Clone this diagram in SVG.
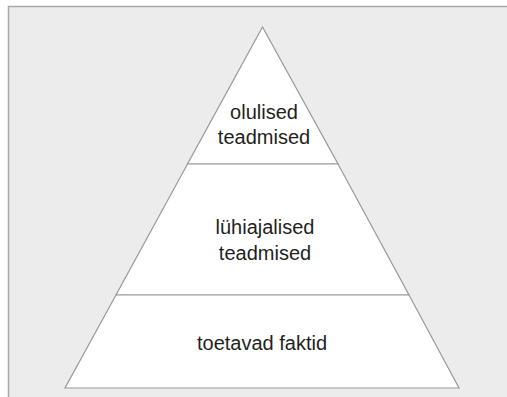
<svg xmlns="http://www.w3.org/2000/svg" width="507" height="397" viewBox="0 0 507 397">
<style>
.bg{fill:#ececec;stroke:#a8a8a8;stroke-width:1.5}
.tier{fill:#ffffff;stroke:#999999;stroke-width:1.2}
.lbl{font-family:"Liberation Sans",Arial,sans-serif;font-size:20px;fill:#231f20;text-anchor:middle}
</style>
<rect class="bg" x="8.5" y="6.5" width="510" height="400"/>
<g id="tier-top">
<polygon class="tier" points="262.5,27 187.5,164 338,164"/>
<text class="lbl" x="264" y="119">olulised</text>
<text class="lbl" x="264" y="144">teadmised</text>
</g>
<g id="tier-middle">
<polygon class="tier" points="187.5,164 338,164 409,295 116,295"/>
<text class="lbl" x="265" y="234">lühiajalised</text>
<text class="lbl" x="265" y="260">teadmised</text>
</g>
<g id="tier-bottom">
<polygon class="tier" points="116,295 409,295 459,388 65,388"/>
<text class="lbl" x="262" y="350">toetavad faktid</text>
</g>
<g id="connectors"></g>
</svg>
